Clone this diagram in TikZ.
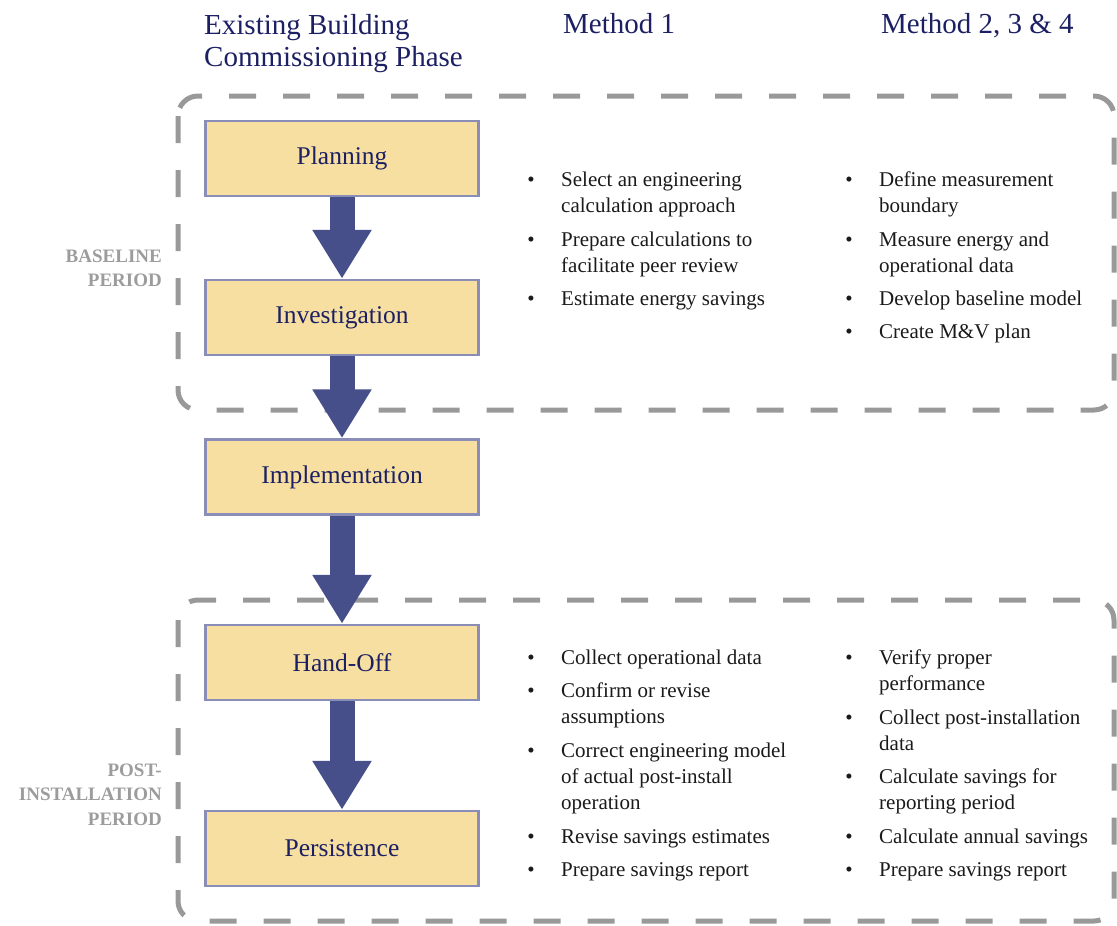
\documentclass[tikz,border=0pt]{standalone}
\usepackage{fontspec}
\setmainfont{Liberation Serif}
\usetikzlibrary{arrows.meta}
\definecolor{navy}{HTML}{1C2063}
\definecolor{boxfill}{HTML}{F7DFA2}
\definecolor{boxline}{HTML}{8A8DB8}
\definecolor{flowc}{HTML}{474F8A}
\definecolor{frame}{HTML}{999999}
\definecolor{periodc}{HTML}{9C9C9C}
\definecolor{bodyc}{HTML}{1A1A1A}
\pgfdeclarelayer{bg}
\pgfsetlayers{bg,main}
\begin{document}
% multi-line nodes are anchored at the baseline of their last line
\begin{tikzpicture}[x=1pt,y=-1pt,
  phase/.style={draw=boxline, line width=2.5pt, fill=boxfill,
    minimum width=273pt, minimum height=75pt, inner sep=0pt,
    text=navy, font=\fontsize{25.5}{30}\selectfont},
  flow/.style={draw=flowc, line width=25pt,
    -{Triangle[length=49pt,width=56pt]}},
  period/.style={draw=frame, line width=5pt, dash pattern=on 27pt off 27pt,
    rounded corners=20pt},
  header/.style={anchor=base west, align=left, inner sep=0pt, text=navy,
    font=\fontsize{29}{32}\selectfont},
  plabel/.style={anchor=base east, align=right, inner sep=0pt, text=periodc,
    font=\bfseries\fontsize{19}{24.5}\selectfont},
  dot/.style={anchor=base, inner sep=0pt, text=bodyc,
    font=\fontsize{21}{26}\selectfont},
  item/.style={anchor=base west, align=left, inner sep=0pt, text=bodyc,
    font=\fontsize{21}{26}\selectfont}]
\useasboundingbox (0,0) rectangle (1117,926);

% column headings
\node[header] (hphase) at (204,66) {Existing Building\\Commissioning Phase};
\node[header] (hm1) at (563,34) {Method 1};
\node[header] (hm2) at (881,34) {Method 2, 3 \& 4};

\node[plabel] (lbase) at (162,286.5) {BASELINE\\PERIOD};
\node[plabel] (lpost) at (162,825) {POST-\\INSTALLATION\\PERIOD};

% commissioning phases
\node[phase] (plan) at (342,158.5) {Planning};
\node[phase] (inv)  at (342,317.5) {Investigation};
\node[phase] (impl) at (342,477)   {Implementation};
\node[phase] (hand) at (342,662.5) {Hand-Off};
\node[phase] (pers) at (342,848.5) {Persistence};

\begin{pgfonlayer}{bg}
  % period frames, behind the flow arrows
  \draw[period] (178,96) rectangle (1114,410);
  \draw[period] (178,600) rectangle (1114,921);
  \draw[flow] (plan) -- (inv);
  \draw[flow] (inv) -- (impl);
  \draw[flow] (impl) -- (hand);
  \draw[flow] (hand) -- (pers);
\end{pgfonlayer}

% baseline period, method 1
\node[dot] (a1d) at (531,186) {•};
\node[item] (a1) at (561,212) {Select an engineering\\calculation approach};
\node[dot] (a2d) at (531,246) {•};
\node[item] (a2) at (561,272) {Prepare calculations to\\facilitate peer review};
\node[dot] (a3d) at (531,305) {•};
\node[item] (a3) at (561,305) {Estimate energy savings};

% baseline period, methods 2-4
\node[dot] (b1d) at (849,186) {•};
\node[item] (b1) at (879,212) {Define measurement\\boundary};
\node[dot] (b2d) at (849,246) {•};
\node[item] (b2) at (879,272) {Measure energy and\\operational data};
\node[dot] (b3d) at (849,305) {•};
\node[item] (b3) at (879,305) {Develop baseline model};
\node[dot] (b4d) at (849,338) {•};
\node[item] (b4) at (879,338) {Create M\&V plan};

% post-installation period, method 1
\node[dot] (c1d) at (531,664) {•};
\node[item] (c1) at (561,664) {Collect operational data};
\node[dot] (c2d) at (531,697) {•};
\node[item] (c2) at (561,723) {Confirm or revise\\assumptions};
\node[dot] (c3d) at (531,757) {•};
\node[item] (c3) at (561,809) {Correct engineering model\\of actual post-install\\operation};
\node[dot] (c4d) at (531,843) {•};
\node[item] (c4) at (561,843) {Revise savings estimates};
\node[dot] (c5d) at (531,876) {•};
\node[item] (c5) at (561,876) {Prepare savings report};

% post-installation period, methods 2-4
\node[dot] (d1d) at (849,664) {•};
\node[item] (d1) at (879,690) {Verify proper\\performance};
\node[dot] (d2d) at (849,724) {•};
\node[item] (d2) at (879,750) {Collect post-installation\\data};
\node[dot] (d3d) at (849,783) {•};
\node[item] (d3) at (879,809) {Calculate savings for\\reporting period};
\node[dot] (d4d) at (849,843) {•};
\node[item] (d4) at (879,843) {Calculate annual savings};
\node[dot] (d5d) at (849,876) {•};
\node[item] (d5) at (879,876) {Prepare savings report};
\end{tikzpicture}
\end{document}
